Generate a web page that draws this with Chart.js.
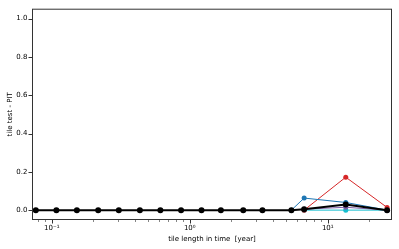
<!DOCTYPE html>
<html>
<head>
<meta charset="utf-8">
<script src="https://cdn.jsdelivr.net/npm/chart.js@4.4.0/dist/chart.umd.min.js"></script>
<style>
  html, body { margin: 0; padding: 0; background: #fff; }
  #wrap { width: 399px; height: 249px; }
</style>
</head>
<body>
<div id="wrap"><canvas id="myChart"></canvas></div>
<script>
// tile length in years (x positions of the points)
const tileLengths = [0.0766, 0.108, 0.152, 0.217, 0.306, 0.435, 0.612, 0.865, 1.216, 1.68, 2.44, 3.36, 5.45, 6.74, 13.5, 26.9];
// series values, null = no point
const blackValues  = [0, 0, 0, 0, 0, 0, 0, 0, 0, 0, 0, 0, 0, 0.005, 0.029, 0];
const blueValues   = [null, null, null, null, null, null, null, null, null, null, null, null, 0, 0.063, 0.04, 0];
const redValues    = [null, null, null, null, null, null, null, null, null, null, null, null, null, 0, 0.172, 0.014];
const purpleValues = [null, null, null, null, null, null, null, null, null, null, null, null, null, 0.005, 0.015, 0];
const cyanValues   = [null, null, null, null, null, null, null, null, null, null, null, null, null, 0, 0, 0];
const yTicks = [0, 0.2, 0.4, 0.6, 0.8, 1.0];
const xMajor = [0.1, 1, 10];
const xMinor = [0.08, 0.09, 0.2, 0.3, 0.4, 0.5, 0.6, 0.7, 0.8, 0.9, 2, 3, 4, 5, 6, 7, 8, 9, 20];
const xMajorLabels = ['10\u207B\u00B9', '10\u2070', '10\u00B9'];

function pts(vals) {
    return tileLengths.map((x, i) => ({ x: x, y: vals[i] })).filter(p => p.y !== null);
}

function line(vals, color, width, radius) {
    return {
        data: pts(vals),
        borderColor: color,
        backgroundColor: color,
        borderWidth: width,
        pointRadius: radius,
        pointBorderWidth: 0,
        pointHoverRadius: radius,
        tension: 0
    };
}

// frame + tick marks like matplotlib
const frame = {
    id: 'frame',
    afterDraw(chart) {
        const ctx = chart.ctx;
        const a = chart.chartArea;
        const xs = chart.scales.x, ys = chart.scales.y;
        ctx.save();
        ctx.strokeStyle = '#333';
        ctx.lineWidth = 1;
        ctx.strokeRect(a.left + 0.5, a.top + 0.5, a.right - a.left - 1, a.bottom - a.top - 1);
        ctx.beginPath();
        xMajor.forEach(v => {
            const px = Math.round(xs.getPixelForValue(v)) + 0.5;
            ctx.moveTo(px, a.bottom); ctx.lineTo(px, a.bottom + 3.5);
        });
        yTicks.forEach(v => {
            const py = Math.round(ys.getPixelForValue(v)) + 0.5;
            ctx.moveTo(a.left, py); ctx.lineTo(a.left - 3.5, py);
        });
        ctx.stroke();
        ctx.lineWidth = 0.6;
        ctx.beginPath();
        xMinor.forEach(v => {
            const px = Math.round(xs.getPixelForValue(v)) + 0.5;
            ctx.moveTo(px, a.bottom); ctx.lineTo(px, a.bottom + 2);
        });
        ctx.stroke();
        ctx.restore();
    }
};

Chart.defaults.font.family = 'DejaVu Sans';
Chart.defaults.color = '#000';

new Chart(document.getElementById('myChart'), {
    type: 'line',
    data: {
        datasets: [
            line(blackValues, '#000000', 2, 3),
            line(blueValues, '#1f77b4', 1, 2.5),
            line(redValues, '#d62728', 1, 2.5),
            line(purpleValues, '#7b5ea7', 1, 2.5),
            line(cyanValues, '#17becf', 1, 2.5)
        ]
    },
    options: {
        responsive: true,
        maintainAspectRatio: false,
        animation: false,
        layout: { padding: { top: 6, right: 7, left: 0, bottom: 0 } },
        plugins: { legend: { display: false }, tooltip: { enabled: false } },
        scales: {
            x: {
                type: 'logarithmic',
                min: 0.0719,
                max: 29.2,
                grid: { display: false, drawTicks: false },
                border: { display: false },
                afterBuildTicks: s => { s.ticks = xMajor.map(v => ({ value: v })); },
                afterFit: s => { s.height = 29; },
                ticks: {
                    autoSkip: false,
                    maxRotation: 0,
                    padding: 4,
                    font: { size: 7 },
                    callback: (v) => {
                        const i = xMajor.indexOf(v);
                        return i >= 0 ? xMajorLabels[i] : '';
                    }
                },
                title: { display: true, text: 'tile length in time  [year]', font: { size: 7 }, padding: { top: 0, bottom: 6 } }
            },
            y: {
                min: -0.0515,
                max: 1.0515,
                grid: { display: false, drawTicks: false },
                border: { display: false },
                afterBuildTicks: s => { s.ticks = yTicks.map(v => ({ value: v })); },
                afterFit: s => { s.width = 32; },
                ticks: {
                    padding: 4.5,
                    font: { size: 7 },
                    callback: v => v.toFixed(1)
                },
                title: { display: true, text: 'tile test - PIT', font: { size: 7 }, padding: { top: 6, bottom: 0 } }
            }
        }
    },
    plugins: [frame]
});
</script>
</body>
</html>
